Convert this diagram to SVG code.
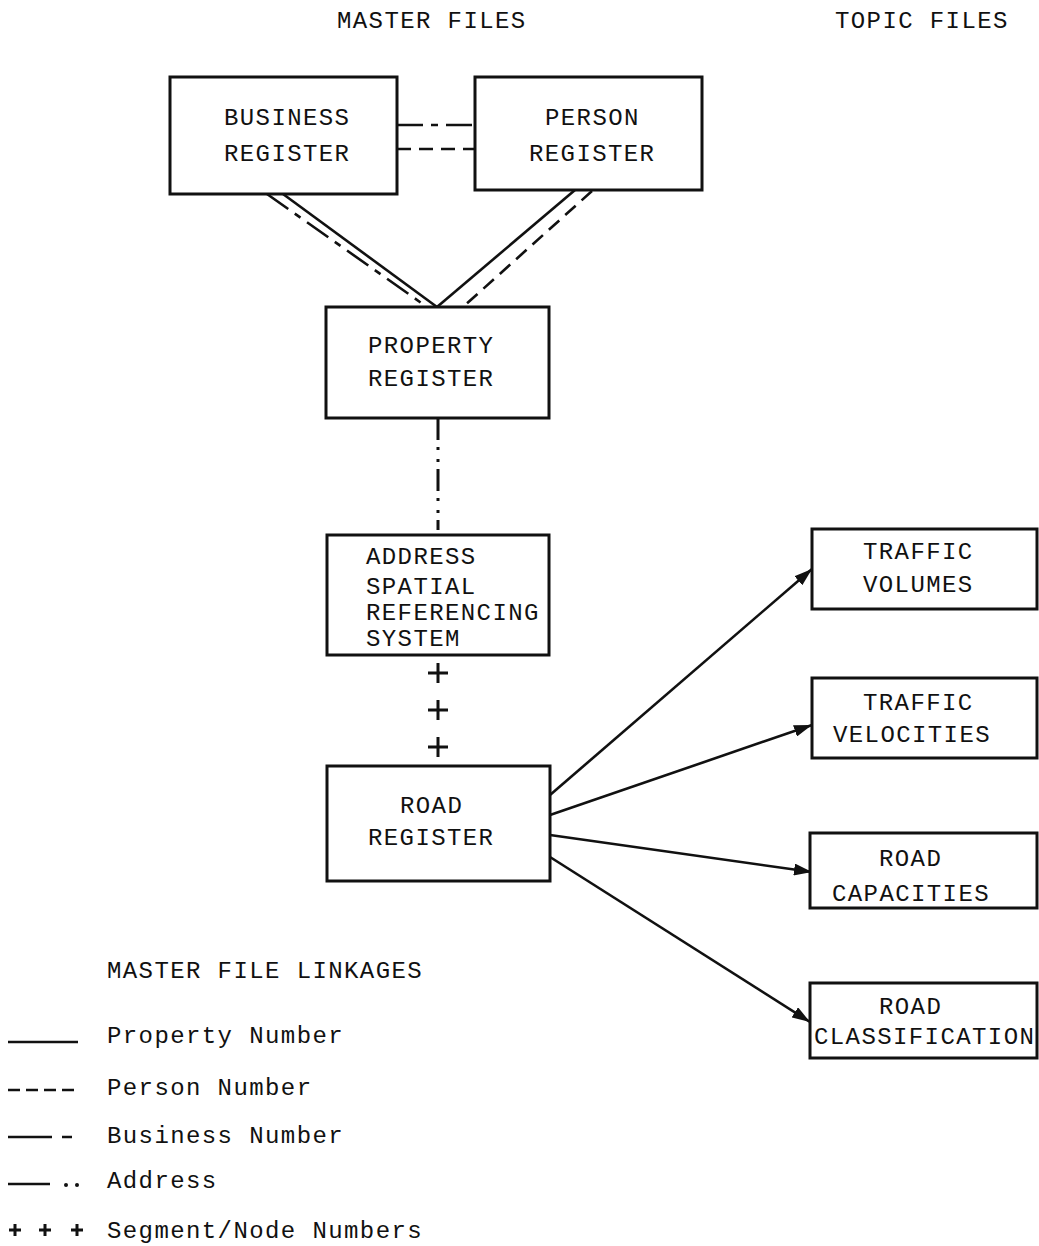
<svg xmlns="http://www.w3.org/2000/svg" width="1039" height="1246" viewBox="0 0 1039 1246">
  <style>
    .box { fill: #fff; stroke: #111; stroke-width: 3; }
    .t { font-family: "Liberation Mono", "DejaVu Sans Mono", monospace; font-size: 24px; letter-spacing: 1.4px; fill: #111; }
    .ln { fill: none; stroke: #111; stroke-width: 2.6; }
    .solid { }
    .person { stroke-dasharray: 14 8; }
    .business { stroke-dasharray: 26 8 7 8; }
    .address { stroke-dasharray: 22 7 3 9 3 7; stroke-width: 3; }
    .plus { stroke: #111; stroke-width: 3; fill: none; }
    .arrow { fill: none; stroke: #111; stroke-width: 2.6; marker-end: url(#head); }
  </style>
  <defs>
    <marker id="head" markerUnits="userSpaceOnUse" markerWidth="20" markerHeight="12" refX="18" refY="6" orient="auto">
      <path d="M0,0 L18,6 L0,12 Z" fill="#111"/>
    </marker>
  </defs>
  <rect width="1039" height="1246" fill="#fff"/>

  <!-- column headings -->
  <text class="t" x="337" y="28">MASTER FILES</text>
  <text class="t" x="835" y="28">TOPIC FILES</text>

  <!-- links between registers -->
  <g id="connectors">
    <path class="ln business" d="M397,125 L475,125"/>
    <path class="ln person" d="M397,149 L475,149"/>
    <path class="ln solid" d="M283,194 L437,307"/>
    <path class="ln business" d="M267,194 L427,307"/>
    <path class="ln solid" d="M575,190 L437,307"/>
    <path class="ln person" d="M592,191 L463,307"/>
    <path class="ln address" d="M438,418 L438,530"/>
    <g id="segment-node-link">
      <path class="plus" d="M428,673 H448 M438,663 V683"/>
      <path class="plus" d="M428,710 H448 M438,700 V720"/>
      <path class="plus" d="M428,747 H448 M438,737 V757"/>
    </g>
    <path class="arrow" d="M550,795 L812,569"/>
    <path class="arrow" d="M550,815 L812,725"/>
    <path class="arrow" d="M550,835 L812,872"/>
    <path class="arrow" d="M550,857 L810,1022"/>
  </g>

  <g id="business-register">
    <rect class="box" x="170" y="77" width="227" height="117"/>
    <text class="t" x="224" y="125">BUSINESS</text>
    <text class="t" x="224" y="161">REGISTER</text>
  </g>
  <g id="person-register">
    <rect class="box" x="475" y="77" width="227" height="113"/>
    <text class="t" x="545" y="125">PERSON</text>
    <text class="t" x="529" y="161">REGISTER</text>
  </g>
  <g id="property-register">
    <rect class="box" x="326" y="307" width="223" height="111"/>
    <text class="t" x="368" y="353">PROPERTY</text>
    <text class="t" x="368" y="386">REGISTER</text>
  </g>
  <g id="address-srs">
    <rect class="box" x="327" y="535" width="222" height="120"/>
    <text class="t" x="366" y="564">ADDRESS</text>
    <text class="t" x="366" y="594">SPATIAL</text>
    <text class="t" x="366" y="620">REFERENCING</text>
    <text class="t" x="366" y="646">SYSTEM</text>
  </g>
  <g id="road-register">
    <rect class="box" x="327" y="766" width="223" height="115"/>
    <text class="t" x="400" y="813">ROAD</text>
    <text class="t" x="368" y="845">REGISTER</text>
  </g>

  <g id="traffic-volumes">
    <rect class="box" x="812" y="529" width="225" height="80"/>
    <text class="t" x="863" y="559">TRAFFIC</text>
    <text class="t" x="863" y="592">VOLUMES</text>
  </g>
  <g id="traffic-velocities">
    <rect class="box" x="812" y="678" width="225" height="80"/>
    <text class="t" x="863" y="710">TRAFFIC</text>
    <text class="t" x="833" y="742">VELOCITIES</text>
  </g>
  <g id="road-capacities">
    <rect class="box" x="810" y="833" width="227" height="75"/>
    <text class="t" x="879" y="866">ROAD</text>
    <text class="t" x="832" y="901">CAPACITIES</text>
  </g>
  <g id="road-classification">
    <rect class="box" x="810" y="983" width="227" height="75"/>
    <text class="t" x="879" y="1014">ROAD</text>
    <text class="t" x="814" y="1044">CLASSIFICATION</text>
  </g>

  <!-- key to linkage line styles -->
  <g id="legend">
    <text class="t" x="107" y="978">MASTER FILE LINKAGES</text>
    <path class="ln" d="M8,1042 H78"/>
    <text class="t" x="107" y="1043">Property Number</text>
    <path class="ln" stroke-dasharray="12 6" d="M8,1090 H74"/>
    <text class="t" x="107" y="1095">Person Number</text>
    <path class="ln" d="M8,1137 H52 M62,1137 H72"/>
    <text class="t" x="107" y="1143">Business Number</text>
    <path class="ln" stroke-width="2.8" d="M8,1184 H50"/>
    <circle cx="66" cy="1185" r="2" fill="#111"/>
    <circle cx="77" cy="1185" r="2" fill="#111"/>
    <text class="t" x="107" y="1188">Address</text>
    <path class="plus" stroke-width="2" d="M9,1230 H21 M15,1224 V1236 M39,1230 H51 M45,1224 V1236 M71,1230 H83 M77,1224 V1236"/>
    <text class="t" x="107" y="1238">Segment/Node Numbers</text>
  </g>
</svg>
